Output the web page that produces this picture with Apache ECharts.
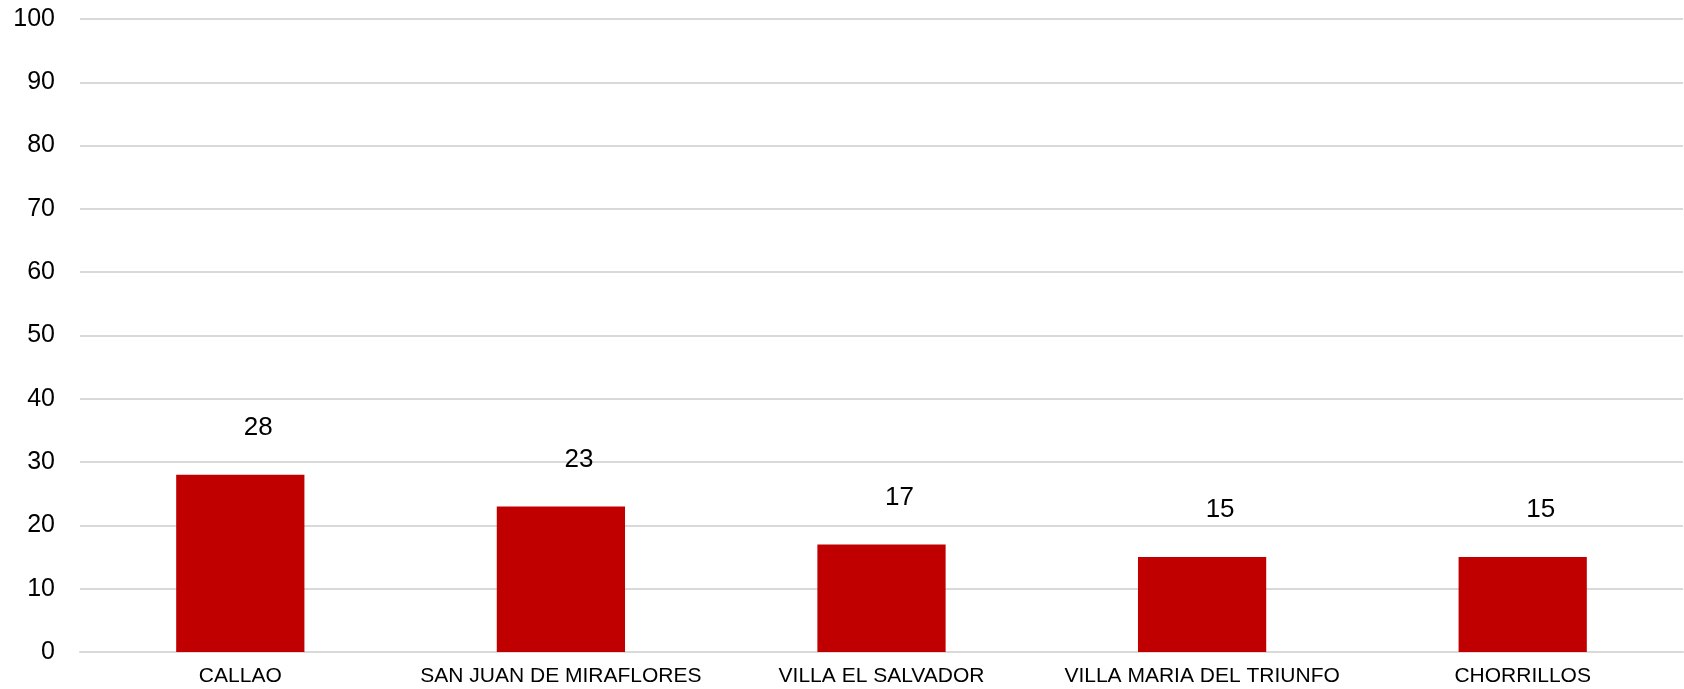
<!DOCTYPE html>
<html>
<head>
<meta charset="utf-8">
<script src="https://cdn.jsdelivr.net/npm/echarts@6/dist/echarts.min.js"></script>
<style>
html,body{margin:0;padding:0;background:#fff;}
#chart{width:1684px;height:689px;}
</style>
</head>
<body>
<div id="chart"></div>
<script>
const categories = ["CALLAO", "SAN JUAN DE MIRAFLORES", "VILLA EL SALVADOR", "VILLA MARIA DEL TRIUNFO", "CHORRILLOS"];
const values = [28, 23, 17, 15, 15];
const yMin = 0, yMax = 100, yInterval = 10;

const chart = echarts.init(document.getElementById('chart'), null, {renderer: 'canvas'});
chart.setOption({
  backgroundColor: '#ffffff',
  animation: false,
  grid: {left: 80, right: 1, top: 19, bottom: 37, containLabel: false},
  xAxis: {
    type: 'category',
    data: categories,
    axisLine: {show: true, lineStyle: {color: '#d9d9d9', width: 2}},
    axisTick: {show: false},
    axisLabel: {color: '#000', fontSize: 21, fontFamily: 'Liberation Sans, Arial, sans-serif', margin: 14, interval: 0}
  },
  yAxis: {
    type: 'value',
    min: yMin, max: yMax, interval: yInterval,
    axisLine: {show: false},
    axisTick: {show: false},
    splitLine: {show: true, lineStyle: {color: '#d9d9d9', width: 2}},
    axisLabel: {color: '#000', fontSize: 25, fontFamily: 'Liberation Sans, Arial, sans-serif', margin: 25}
  },
  series: [{
    type: 'bar',
    data: values,
    barWidth: '40%',
    itemStyle: {color: '#c00000'},
    label: {show: true, position: 'top', distance: 34, offset: [18, 0], color: '#000', fontSize: 26, fontFamily: 'Liberation Sans, Arial, sans-serif'}
  }]
});
</script>
</body>
</html>
